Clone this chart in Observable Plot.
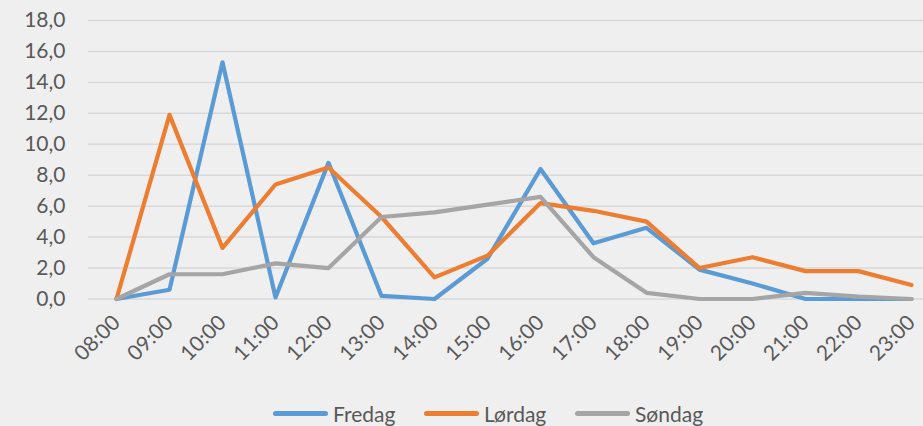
<!DOCTYPE html>
<html>
<head>
<meta charset="utf-8">
<script src="https://cdn.jsdelivr.net/npm/d3@7"></script>
<script src="https://cdn.jsdelivr.net/npm/@observablehq/plot@0.6"></script>
<style>
  html, body { margin: 0; padding: 0; background: #efefef; }
  #chart { width: 923px; height: 426px; overflow: hidden; background: #efefef; font-family: Lato, "Open Sans", sans-serif; }
  #legend { display: flex; height: 34px; padding-left: 273px; padding-top: 9px; box-sizing: border-box; align-items: center; color: #595959; font-size: 21px; }
  .item { display: flex; align-items: center; width: 151px; }
  .sw { width: 55px; height: 5px; border-radius: 3px; margin-right: 5px; }
</style>
</head>
<body>
<div id="chart"></div>
<script>
const hours = ["08:00","09:00","10:00","11:00","12:00","13:00","14:00","15:00","16:00","17:00","18:00","19:00","20:00","21:00","22:00","23:00"];
const fredag = [0, 0.6, 15.3, 0.1, 8.8, 0.2, 0.0, 2.6, 8.4, 3.6, 4.6, 1.9, 1.0, 0.0, 0.0, 0.0];
const lordag = [0, 11.9, 3.3, 7.4, 8.5, 5.3, 1.4, 2.8, 6.2, 5.7, 5.0, 2.0, 2.7, 1.8, 1.8, 0.9];
const sondag = [0, 1.6, 1.6, 2.3, 2.0, 5.3, 5.6, 6.1, 6.6, 2.7, 0.4, 0.0, 0.0, 0.4, 0.15, 0.0];
const seriesNames = ["Fredag", "Lørdag", "Søndag"];
const seriesColors = ["#5b9bd5", "#ed7d31", "#a5a5a5"];
const yTicks = [0, 2, 4, 6, 8, 10, 12, 14, 16, 18];

const seriesValues = [fredag, lordag, sondag];
const data = [];
seriesNames.forEach((name, i) => {
  hours.forEach((h, j) => data.push({series: name, hour: h, value: seriesValues[i][j]}));
});
const fmt = d => d.toFixed(1).replace(".", ",");

const plot = Plot.plot({
  width: 923,
  height: 392,
  marginLeft: 88,
  marginRight: 0,
  marginTop: 20,
  marginBottom: 93.5,
  style: {background: "#efefef", color: "#595959", fontFamily: "Lato, 'Open Sans', sans-serif"},
  x: {type: "point", domain: hours, range: [113, 913], padding: 0, label: null},
  y: {domain: [0, 18], label: null},
  color: {domain: seriesNames, range: seriesColors},
  marks: [
    Plot.ruleY(yTicks, {stroke: "#d9d9d9", strokeWidth: 1.5}),
    Plot.axisY(yTicks, {tickSize: 0, tickPadding: 23, tickFormat: fmt, fontSize: 21, fill: "#595959", label: null}),
    Plot.axisX(hours, {tickSize: 0, tickPadding: 20, tickRotate: -45, fontSize: 21, fill: "#595959", label: null}),
    Plot.lineY(data, {x: "hour", y: "value", stroke: "series", strokeWidth: 4.2, strokeLinecap: "round", strokeLinejoin: "round"})
  ]
});
const chart = document.getElementById("chart");
chart.appendChild(plot);
const legend = document.createElement("div");
legend.id = "legend";
seriesNames.forEach((name, i) => {
  const it = document.createElement("div");
  it.className = "item";
  const sw = document.createElement("div");
  sw.className = "sw";
  sw.style.background = seriesColors[i];
  const t = document.createElement("span");
  t.textContent = name;
  it.appendChild(sw); it.appendChild(t);
  legend.appendChild(it);
});
chart.appendChild(legend);
</script>
</body>
</html>
